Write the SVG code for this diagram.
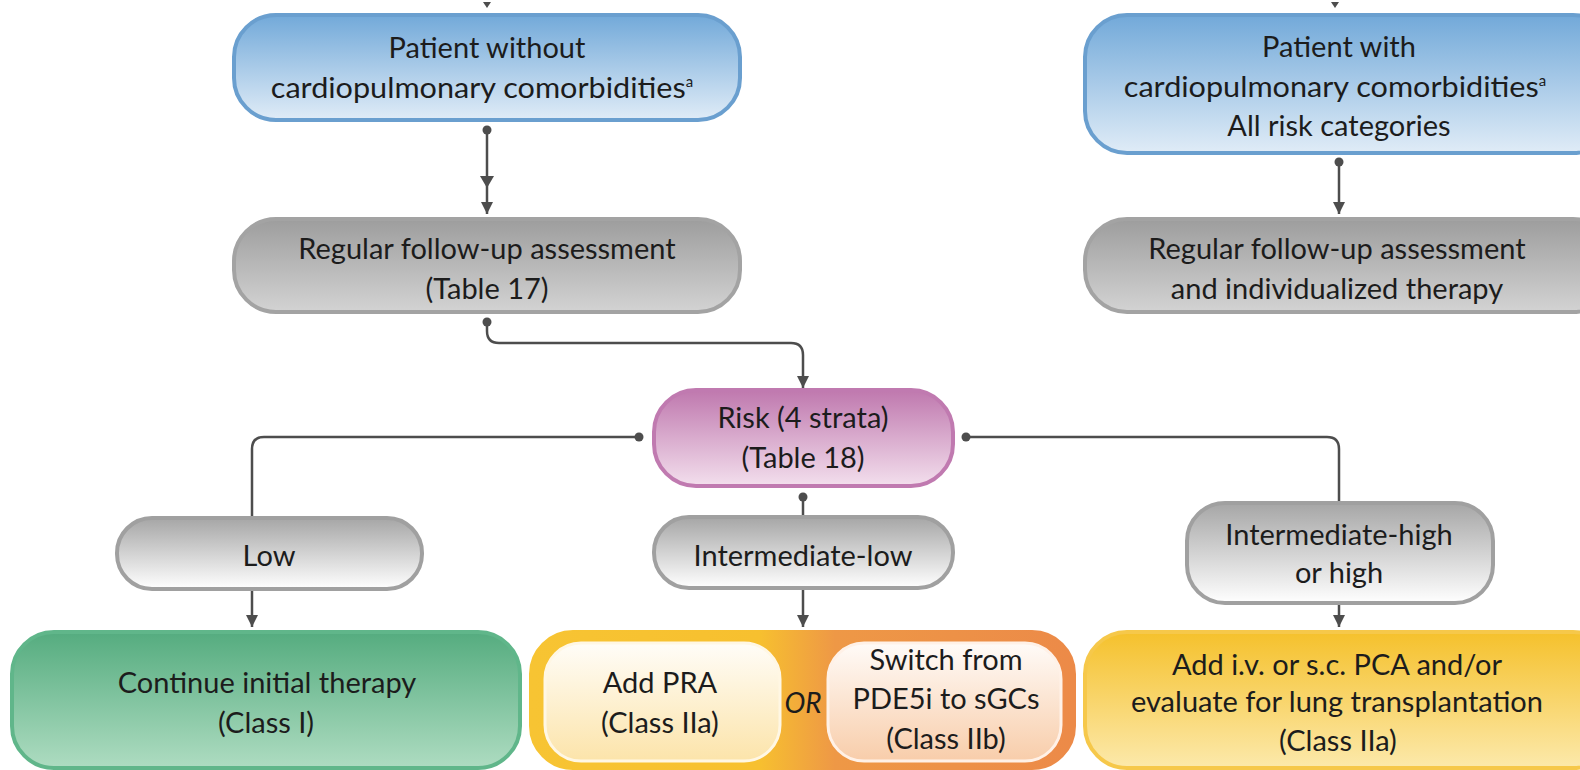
<svg xmlns="http://www.w3.org/2000/svg" width="1580" height="770" viewBox="0 0 1580 770">
  <defs>
    <linearGradient id="gBlue" x1="0" y1="0" x2="0" y2="1">
      <stop offset="0" stop-color="#72a9d9"/>
      <stop offset="1" stop-color="#e0ecf7"/>
    </linearGradient>
    <linearGradient id="gGrayDark" x1="0" y1="0" x2="0" y2="1">
      <stop offset="0" stop-color="#9d9d9d"/>
      <stop offset="1" stop-color="#d3d3d3"/>
    </linearGradient>
    <linearGradient id="gGrayLight" x1="0" y1="0" x2="0" y2="1">
      <stop offset="0" stop-color="#a6a6a6"/>
      <stop offset="1" stop-color="#ffffff"/>
    </linearGradient>
    <linearGradient id="gPurple" x1="0" y1="0" x2="0" y2="1">
      <stop offset="0" stop-color="#bf78ae"/>
      <stop offset="1" stop-color="#f3dfed"/>
    </linearGradient>
    <linearGradient id="gGreen" x1="0" y1="0" x2="0" y2="1">
      <stop offset="0" stop-color="#55ac7f"/>
      <stop offset="1" stop-color="#aedcc1"/>
    </linearGradient>
    <linearGradient id="gOrange" x1="0" y1="0" x2="1" y2="0">
      <stop offset="0" stop-color="#f7c433"/>
      <stop offset="0.42" stop-color="#f7c02f"/>
      <stop offset="0.56" stop-color="#ee9846"/>
      <stop offset="1" stop-color="#ec8a48"/>
    </linearGradient>
    <linearGradient id="gCream" x1="0" y1="0" x2="0" y2="1">
      <stop offset="0" stop-color="#fffdf8"/>
      <stop offset="1" stop-color="#fce4aa"/>
    </linearGradient>
    <linearGradient id="gPeach" x1="0" y1="0" x2="0" y2="1">
      <stop offset="0" stop-color="#fffbf8"/>
      <stop offset="1" stop-color="#f8cdaa"/>
    </linearGradient>
    <linearGradient id="gYellow" x1="0" y1="0" x2="0" y2="1">
      <stop offset="0" stop-color="#f5c12c"/>
      <stop offset="1" stop-color="#fce9ab"/>
    </linearGradient>
    <marker id="arrow" viewBox="0 0 12 12" refX="12" refY="6" markerWidth="12" markerHeight="12" markerUnits="userSpaceOnUse" orient="auto">
      <path d="M0,0 L12,6 L0,12 Z" fill="#4d4d4d"/>
    </marker>
    <marker id="dot" viewBox="0 0 10 10" refX="5" refY="5" markerWidth="10" markerHeight="10" markerUnits="userSpaceOnUse">
      <circle cx="5" cy="5" r="4.5" fill="#4d4d4d"/>
    </marker>
  </defs>
  <style>
    text { font-family: Lato, "Open Sans", "Liberation Sans", sans-serif; font-size: 29px; fill: #1c1c1c; text-anchor: middle; }
    .sup { font-size: 15px; }
    .or { font-style: italic; font-size: 28px; }
    .blue { fill: url(#gBlue); stroke: #6a9fcf; stroke-width: 4; }
    .grayD { fill: url(#gGrayDark); stroke: #a3a3a3; stroke-width: 4; }
    .grayL { fill: url(#gGrayLight); stroke: #a0a0a0; stroke-width: 4; }
    .purple { fill: url(#gPurple); stroke: #c07ab0; stroke-width: 4; }
    .green { fill: url(#gGreen); stroke: #60b68a; stroke-width: 4; }
    .orange { fill: url(#gOrange); stroke: url(#gOrange); stroke-width: 4; }
    .cream { fill: url(#gCream); stroke: #fff7e4; stroke-width: 3; }
    .peach { fill: url(#gPeach); stroke: #fff1e7; stroke-width: 3; }
    .yellow { fill: url(#gYellow); stroke: #f6c84a; stroke-width: 4; }
    .wire { fill: none; stroke: #4d4d4d; stroke-width: 2.5; }
    .head { fill: #4d4d4d; }
  </style>

  <!-- connectors -->
  <g id="connectors">
    <!-- incoming stubs at the top edge -->
    <path class="head" d="M483,2 L491,2 L487,8 Z"/>
    <path class="head" d="M1331,2 L1339,2 L1335,8 Z"/>
    <!-- without comorbidities -> follow-up (double head) -->
    <path class="wire" d="M487,130 V214" marker-start="url(#dot)" marker-end="url(#arrow)"/>
    <path class="head" d="M480,176 L494,176 L487,188 Z"/>
    <!-- with comorbidities -> individualized follow-up -->
    <path class="wire" d="M1339,162 V214" marker-start="url(#dot)" marker-end="url(#arrow)"/>
    <!-- follow-up -> risk -->
    <path class="wire" d="M487,322 V331 Q487,343 499,343 H791 Q803,343 803,355 V388" marker-start="url(#dot)" marker-end="url(#arrow)"/>
    <!-- risk -> strata -->
    <path class="wire" d="M639,437 H264 Q252,437 252,449 V517" marker-start="url(#dot)"/>
    <path class="wire" d="M966,437 H1327 Q1339,437 1339,449 V503" marker-start="url(#dot)"/>
    <path class="wire" d="M803,497 V516" marker-start="url(#dot)"/>
    <!-- strata -> treatments -->
    <path class="wire" d="M252,590 V627" marker-end="url(#arrow)"/>
    <path class="wire" d="M803,588 V627" marker-end="url(#arrow)"/>
    <path class="wire" d="M1339,605 V627" marker-end="url(#arrow)"/>
  </g>

  <g id="without-comorbidities">
    <rect class="blue" x="234" y="15" width="506" height="105" rx="42"/>
    <text x="487" y="58">Patient without</text>
    <text x="482" y="98"><tspan textLength="415" lengthAdjust="spacingAndGlyphs">cardiopulmonary comorbidities</tspan><tspan class="sup" dy="-11">a</tspan></text>
  </g>

  <g id="with-comorbidities">
    <rect class="blue" x="1085" y="15" width="530" height="138" rx="42"/>
    <text x="1339" y="57">Patient with</text>
    <text x="1335" y="97"><tspan textLength="415" lengthAdjust="spacingAndGlyphs">cardiopulmonary comorbidities</tspan><tspan class="sup" dy="-11">a</tspan></text>
    <text x="1339" y="136">All risk categories</text>
  </g>

  <g id="follow-up">
    <rect class="grayD" x="234" y="219" width="506" height="93" rx="42"/>
    <text x="487" y="259">Regular follow-up assessment</text>
    <text x="487" y="299">(Table 17)</text>
  </g>

  <g id="follow-up-individualized">
    <rect class="grayD" x="1085" y="219" width="530" height="93" rx="42"/>
    <text x="1337" y="259">Regular follow-up assessment</text>
    <text x="1337" y="299">and individualized therapy</text>
  </g>

  <g id="risk">
    <rect class="purple" x="654" y="390" width="299" height="96" rx="42"/>
    <text x="803" y="428">Risk (4 strata)</text>
    <text x="803" y="468">(Table 18)</text>
  </g>

  <g id="low">
    <rect class="grayL" x="117" y="518" width="305" height="71" rx="35"/>
    <text x="269" y="566">Low</text>
  </g>

  <g id="intermediate-low">
    <rect class="grayL" x="654" y="517" width="299" height="71" rx="35"/>
    <text x="803" y="566">Intermediate-low</text>
  </g>

  <g id="intermediate-high">
    <rect class="grayL" x="1187" y="503" width="306" height="100" rx="38"/>
    <text x="1339" y="545">Intermediate-high</text>
    <text x="1339" y="583">or high</text>
  </g>

  <g id="continue">
    <rect class="green" x="12" y="632" width="508" height="136" rx="42"/>
    <text x="267" y="693">Continue initial therapy</text>
    <text x="266" y="733">(Class I)</text>
  </g>

  <g id="intermediate-low-options">
    <rect class="orange" x="531" y="632" width="543" height="136" rx="42"/>
    <rect class="cream" x="545" y="643" width="235" height="118" rx="36"/>
    <text x="660" y="693">Add PRA</text>
    <text x="660" y="733">(Class IIa)</text>
    <text class="or" x="803" y="713">OR</text>
    <rect class="peach" x="828" y="643" width="233" height="118" rx="36"/>
    <text x="946" y="670">Switch from</text>
    <text x="946" y="709">PDE5i to sGCs</text>
    <text x="946" y="749">(Class IIb)</text>
  </g>

  <g id="escalate">
    <rect class="yellow" x="1085" y="632" width="530" height="136" rx="42"/>
    <text x="1337" y="675">Add i.v. or s.c. PCA and/or</text>
    <text x="1337" y="712">evaluate for lung transplantation</text>
    <text x="1338" y="751">(Class IIa)</text>
  </g>
</svg>
